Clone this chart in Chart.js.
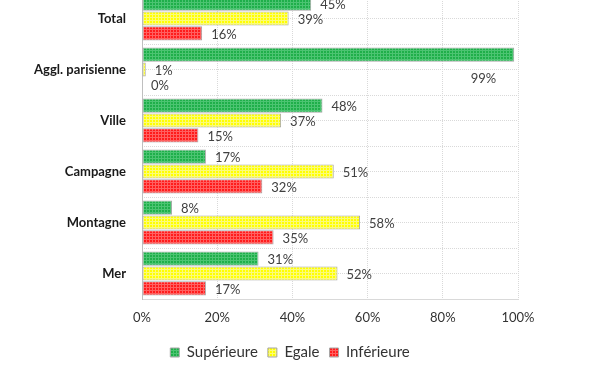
<!DOCTYPE html>
<html>
<head>
<meta charset="utf-8">
<script src="https://cdn.jsdelivr.net/npm/chart.js@4"></script>
<style>
  html, body { margin: 0; padding: 0; background: #fff; overflow: hidden; }
  #wrap { position: absolute; left: 0; top: -30px; width: 600px; height: 402px; }
</style>
</head>
<body>
<div id="wrap"><canvas id="myChart"></canvas></div>
<script>
const categories = ["Total", "Aggl. parisienne", "Ville", "Campagne", "Montagne", "Mer"];
const seriesNames = ["Supérieure", "Egale", "Inférieure"];
const superieure = [45, 99, 48, 17, 8, 31];
const egale = [39, 1, 37, 51, 58, 52];
const inferieure = [16, 0, 15, 32, 35, 17];
const xTicks = [0, 20, 40, 60, 80, 100];

const FONT = "Lato, 'Liberation Sans', sans-serif";

// small grid texture like the excel fill
function makePattern(base, light) {
  const c = document.createElement("canvas");
  c.width = 3;
  c.height = 3;
  const g = c.getContext("2d");
  g.fillStyle = light;
  g.fillRect(0, 0, 3, 3);
  g.fillStyle = base;
  g.fillRect(0, 0, 2, 2);
  return g.createPattern(c, "repeat");
}
const greenFill = makePattern("#1faf4a", "#4cc472");
const yellowFill = makePattern("#ffff00", "#fbfb7a");
const redFill = makePattern("#ff1c1c", "#ff6060");

const halfLabels = [];
categories.forEach((c) => halfLabels.push(c + "a", c + "b"));

const valueLabels = {
  id: "valueLabels",
  afterDatasetsDraw(chart) {
    const ctx = chart.ctx;
    ctx.save();
    ctx.font = "13px " + FONT;
    ctx.fillStyle = "#404040";
    ctx.textBaseline = "middle";
    chart.data.datasets.forEach((ds, i) => {
      chart.getDatasetMeta(i).data.forEach((bar, j) => {
        const txt = ds.data[j] + "%";
        const w = ctx.measureText(txt).width;
        if (bar.x + 9 + w > chart.chartArea.right) {
          ctx.textAlign = "right";
          ctx.fillText(txt, bar.x - 18, bar.y + 24);
        } else {
          ctx.textAlign = "left";
          ctx.fillText(txt, bar.x + 9, bar.y + 1);
        }
      });
    });
    ctx.restore();
  },
};

const ctx = document.getElementById("myChart").getContext("2d");
const myChart = new Chart(ctx, {
  type: "bar",
  data: {
    labels: categories,
    datasets: [
      { label: seriesNames[0], data: superieure, backgroundColor: greenFill },
      { label: seriesNames[1], data: egale, backgroundColor: yellowFill },
      { label: seriesNames[2], data: inferieure, backgroundColor: redFill },
    ].map((d) => ({
      ...d,
      borderColor: "#a6a6a6",
      borderWidth: 1,
      borderSkipped: false,
      categoryPercentage: 0.875,
      barPercentage: 0.95,
    })),
  },
  plugins: [valueLabels],
  options: {
    indexAxis: "y",
    responsive: true,
    maintainAspectRatio: false,
    animation: false,
    layout: { padding: { top: 23, right: 20, left: 0, bottom: 2 } },
    scales: {
      x: {
        min: 0,
        max: 100,
        afterBuildTicks: (s) => { s.ticks = xTicks.map((v) => ({ value: v })); },
        afterFit: (s) => { s.height = 36; },
        ticks: {
          callback: (v) => v + "%",
          color: "#333",
          font: { family: FONT, size: 13 },
          padding: 11,
        },
        grid: { color: "#d9d9d9", drawTicks: false },
        border: { display: true, color: "#d9d9d9", dash: [1, 1] },
      },
      y: {
        afterFit: (s) => { s.width = 142; },
        ticks: {
          color: "#1a1a1a",
          font: { family: FONT, size: 13, weight: "bold" },
          padding: 8,
        },
        grid: { display: false },
        border: { display: true, color: "#bfbfbf" },
      },
      y2: {
        type: "category",
        labels: halfLabels,
        position: "left",
        offset: true,
        afterFit: (s) => { s.width = 0; },
        ticks: { display: false },
        grid: { color: "#d9d9d9", drawTicks: false, offset: true },
        border: { display: false, dash: [1, 1] },
      },
      // empty room on the right so the legend sits where the original has it
      yRight: {
        type: "category",
        labels: categories,
        position: "right",
        afterFit: (s) => { s.width = 62; },
        ticks: { display: false },
        grid: { display: false, drawTicks: false },
        border: { display: false },
      },
    },
    plugins: {
      legend: {
        position: "bottom",
        labels: {
          color: "#333",
          font: { family: FONT, size: 15 },
          boxWidth: 9,
          boxHeight: 9,
          padding: 10,
        },
      },
      tooltip: { enabled: false },
    },
  },
});
</script>
</body>
</html>
